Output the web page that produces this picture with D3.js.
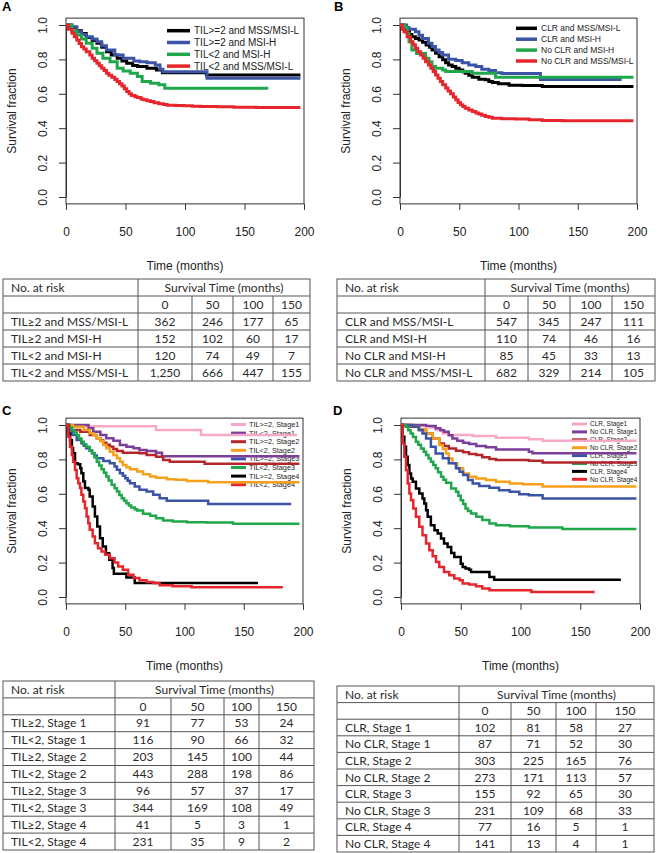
<!DOCTYPE html>
<html>
<head>
<meta charset="utf-8">
<script src="https://cdn.jsdelivr.net/npm/d3@7"></script>
<style>
  body { margin: 0; background: #fff; }
  svg { display: block; }
</style>
</head>
<body>
<div id="chart"></div>
<script>
/* axis ticks shared by all four survival plots */
var timeTicks = [0, 50, 100, 150, 200];
var survTicks = [0, 0.2, 0.4, 0.6, 0.8, 1.0];

/* Panel A: TIL and MSI status, [months, survival] step points */
var namesA = ["TIL>=2 and MSS/MSI-L", "TIL>=2 and MSI-H", "TIL<2 and MSI-H", "TIL<2 and MSS/MSI-L"];
var colorsA = ["#000000", "#3b54a5", "#20a74c", "#e6262c"];
var A_hiTil_mss = [[0,1],[4,0.985],[9,0.967],[13,0.95],[17,0.928],[22,0.91],[26,0.894],[30,0.87],[34,0.845],[38,0.825],[43,0.807],[47,0.79],[51,0.778],[56,0.765],[60,0.758],[68,0.749],[76,0.739],[81,0.723],[118,0.71],[197,0.71]];
var A_hiTil_msih = [[0,1],[5,0.99],[9,0.961],[13,0.945],[17,0.932],[22,0.918],[26,0.903],[30,0.88],[34,0.855],[41,0.826],[48,0.807],[57,0.791],[62,0.787],[68,0.78],[75,0.768],[79,0.743],[81.5,0.728],[118.5,0.69],[197,0.69]];
var A_loTil_msih = [[0,1],[5,0.965],[9,0.942],[13,0.918],[17,0.894],[22,0.865],[26,0.836],[31,0.807],[37,0.787],[43,0.749],[48,0.733],[54,0.72],[60,0.70],[64,0.671],[71,0.661],[78,0.652],[83,0.632],[170,0.632]];
var A_loTil_mss = [[0,1],[2,0.975],[5,0.952],[7,0.932],[9,0.913],[11,0.893],[13,0.874],[15,0.86],[17,0.845],[20,0.825],[22,0.807],[24,0.792],[26,0.778],[28,0.763],[30,0.749],[32,0.735],[34,0.72],[36,0.708],[38.5,0.696],[41,0.683],[43,0.671],[45,0.658],[47,0.646],[49,0.63],[51,0.613],[53,0.6],[55,0.59],[58,0.583],[60,0.578],[63,0.57],[65,0.565],[68,0.56],[71,0.555],[74,0.548],[78,0.542],[82,0.538],[85,0.534],[92,0.532],[99,0.53],[106,0.528],[113,0.526],[127,0.524],[141,0.522],[160,0.52],[197,0.52]];

/* Panel B: Crohn's-like reaction and MSI status */
var namesB = ["CLR and MSS/MSI-L", "CLR and MSI-H", "No CLR and MSI-H", "No CLR and MSS/MSI-L"];
var colorsB = ["#000000", "#3b54a5", "#20a74c", "#e6262c"];
var B_clr_mss = [[0,1],[3,0.975],[5,0.961],[8,0.945],[10,0.932],[13,0.922],[16,0.913],[19,0.9],[22,0.884],[25,0.87],[27,0.855],[30,0.836],[33,0.816],[36,0.798],[38.5,0.781],[41,0.768],[44,0.758],[47,0.748],[50,0.739],[53,0.728],[55,0.72],[58,0.708],[61,0.696],[66.5,0.685],[72,0.681],[75,0.672],[78,0.665],[83,0.658],[92,0.65],[103,0.648],[120,0.643],[197,0.643]];
var B_clr_msih = [[0,1],[5.6,0.985],[7.6,0.975],[13,0.961],[16,0.94],[19,0.922],[24,0.894],[27,0.875],[30,0.855],[33,0.84],[36,0.826],[41,0.801],[47,0.793],[52.5,0.781],[58,0.768],[64,0.758],[69,0.743],[75,0.735],[80.6,0.723],[86,0.718],[118.5,0.683],[187,0.683]];
var B_noclr_msih = [[0,1],[4,0.985],[6,0.952],[7.6,0.903],[10,0.855],[14,0.834],[21.6,0.807],[24.4,0.787],[27,0.758],[30,0.749],[36,0.739],[38.5,0.729],[61,0.72],[80.6,0.696],[197,0.696]];
var B_noclr_mss = [[0,1],[2,0.975],[3.4,0.961],[6,0.932],[9,0.903],[11,0.885],[13,0.865],[15,0.845],[17.4,0.826],[19.5,0.806],[21.6,0.787],[24,0.768],[26,0.749],[28,0.73],[30,0.71],[32,0.69],[34,0.671],[36,0.652],[38.5,0.633],[40.5,0.616],[42.7,0.6],[45,0.582],[47,0.565],[49,0.55],[51,0.536],[53,0.526],[55,0.516],[58,0.506],[61,0.497],[64,0.489],[66.5,0.482],[69,0.475],[72,0.468],[75,0.463],[78,0.458],[86,0.455],[97.5,0.453],[109,0.449],[120,0.445],[137,0.443],[197,0.443]];

/* Panel C: TIL by stage */
var namesC = ["TIL>=2, Stage1", "TIL<2, Stage1", "TIL>=2, Stage2", "TIL<2, Stage2", "TIL>=2, Stage3", "TIL<2, Stage3", "TIL>=2, Stage4", "TIL<2, Stage4"];
var colorsStage = ["#f5a9c6", "#7c3f99", "#b3262b", "#f6a01b", "#3b54a5", "#20a74c", "#000000", "#e6262c"];
var C_hi_s1 = [[0,1],[3,0.993],[76,0.971],[114,0.942],[195,0.942]];
var C_lo_s1 = [[0,1],[19,0.981],[23,0.961],[29,0.942],[34,0.923],[40,0.909],[45.5,0.884],[51,0.874],[57,0.865],[62,0.855],[68,0.849],[76,0.839],[81,0.818],[197,0.818]];
var C_hi_s2 = [[0,1],[3,0.971],[12,0.961],[20,0.942],[26,0.923],[29,0.91],[31.5,0.897],[34,0.885],[37,0.874],[40,0.86],[43,0.849],[48,0.839],[62,0.836],[68,0.826],[76,0.816],[82,0.797],[87.6,0.787],[117,0.775],[197,0.775]];
var C_lo_s2 = [[0,1],[6,0.99],[15,0.971],[20,0.952],[23,0.94],[26,0.923],[29,0.905],[31.5,0.884],[34,0.865],[37,0.845],[40,0.826],[43,0.807],[45.5,0.787],[48,0.768],[51,0.755],[54,0.743],[60,0.729],[65,0.714],[71,0.7],[76,0.694],[85,0.685],[93,0.681],[102,0.675],[120,0.667],[197,0.667]];
var C_hi_s3 = [[0,1],[2,0.97],[5,0.942],[9,0.913],[13,0.894],[15,0.88],[17,0.865],[20,0.85],[22,0.836],[24,0.822],[26,0.807],[31.5,0.791],[37,0.778],[41,0.758],[43,0.74],[45.5,0.72],[48,0.705],[50,0.691],[52,0.676],[54,0.661],[58,0.642],[62,0.623],[68,0.613],[73.6,0.594],[79,0.574],[85,0.559],[120,0.54],[190,0.54]];
var C_lo_s3 = [[0,1],[3,0.985],[5,0.971],[7,0.957],[9,0.942],[11,0.922],[13,0.903],[15,0.888],[17,0.874],[20,0.852],[22,0.836],[24,0.812],[26,0.787],[28,0.765],[30,0.743],[32,0.722],[34,0.7],[36,0.677],[38.5,0.652],[41,0.632],[43,0.613],[45,0.593],[47,0.574],[49,0.56],[51,0.545],[53,0.532],[55,0.52],[58,0.51],[60,0.503],[65,0.484],[71,0.472],[76,0.458],[82,0.445],[90,0.439],[102,0.435],[118.5,0.433],[141,0.426],[197,0.426]];
var C_hi_s4 = [[0,1],[2,0.95],[3.4,0.913],[5,0.865],[6,0.836],[7.6,0.778],[10,0.772],[12,0.749],[13,0.72],[14.6,0.671],[16,0.633],[19,0.623],[20,0.584],[22.5,0.526],[24.4,0.468],[26.4,0.41],[28.7,0.342],[31,0.294],[33.7,0.255],[36.5,0.217],[39.3,0.168],[40.4,0.135],[51,0.114],[58,0.081],[162,0.081]];
var C_lo_s4 = [[0,1],[2,0.932],[3.4,0.874],[5,0.826],[6,0.787],[7.6,0.739],[9,0.69],[10.4,0.661],[11.8,0.633],[13,0.594],[14.6,0.555],[16,0.516],[17.4,0.468],[18.8,0.429],[20,0.391],[22.5,0.352],[24.4,0.313],[27,0.284],[30,0.265],[33,0.246],[37,0.226],[41,0.201],[44,0.178],[48,0.159],[52.5,0.13],[57,0.11],[62,0.097],[68,0.087],[73.6,0.081],[79,0.068],[90,0.062],[106,0.056],[183,0.056]];

/* Panel D: CLR by stage */
var namesD = ["CLR, Stage1", "No CLR, Stage1", "CLR, Stage2", "No CLR, Stage2", "CLR, Stage3", "No CLR, Stage3", "CLR, Stage4", "No CLR, Stage4"];
var D_clr_s1 = [[0,1],[4,0.994],[24,0.986],[29,0.971],[35,0.951],[40,0.942],[60,0.936],[79.5,0.926],[107,0.917],[118.5,0.909],[197,0.909]];
var D_no_s1 = [[0,1],[21,0.994],[29,0.981],[33,0.97],[36,0.961],[40,0.94],[43,0.922],[47,0.909],[52,0.897],[57,0.889],[63,0.878],[71,0.87],[79.5,0.858],[107,0.845],[110,0.836],[197,0.836]];
var D_clr_s2 = [[0,1],[7,0.99],[15,0.971],[21,0.951],[26.5,0.922],[32,0.893],[36,0.878],[40,0.864],[46,0.85],[52,0.841],[57,0.831],[63,0.825],[68,0.812],[74,0.802],[79.5,0.796],[107,0.792],[118.5,0.782],[197,0.782]];
var D_no_s2 = [[0,1],[10,0.99],[15,0.975],[21,0.951],[26.5,0.922],[32,0.883],[35,0.86],[37.7,0.835],[40,0.805],[43,0.777],[47,0.748],[52,0.718],[57,0.699],[63,0.689],[71,0.68],[79.5,0.67],[91,0.66],[102,0.656],[118.5,0.643],[197,0.643]];
var D_clr_s3 = [[0,1],[10,0.99],[15,0.971],[18,0.95],[21,0.922],[25,0.874],[29,0.835],[35,0.806],[40,0.777],[46,0.748],[49,0.728],[52,0.709],[56,0.68],[60,0.66],[65.5,0.645],[74,0.635],[82,0.621],[91,0.612],[99,0.598],[107,0.592],[118.5,0.573],[197,0.573]];
var D_no_s3 = [[0,1],[4,0.99],[6,0.97],[8,0.951],[10,0.93],[12.5,0.903],[14.5,0.885],[16.7,0.864],[19,0.845],[21,0.825],[23,0.805],[25,0.786],[27,0.768],[29,0.748],[31,0.725],[33.5,0.699],[35.5,0.682],[37.7,0.664],[42,0.631],[46,0.612],[48,0.588],[50,0.563],[52,0.54],[54,0.515],[56,0.5],[58.6,0.485],[63,0.466],[68,0.447],[74,0.427],[79.5,0.417],[91,0.412],[107,0.404],[135,0.395],[197,0.395]];
var D_clr_s4 = [[0,1],[1.4,0.932],[2.8,0.874],[4.2,0.816],[5.6,0.767],[7,0.718],[8.4,0.689],[9.8,0.67],[12.5,0.631],[15.3,0.602],[18,0.573],[19.5,0.544],[21,0.505],[22.3,0.466],[25,0.417],[28,0.388],[30.7,0.369],[33.5,0.34],[36,0.311],[39,0.291],[42,0.256],[44.6,0.233],[50,0.194],[51.6,0.175],[54,0.165],[57,0.159],[58.6,0.146],[74,0.117],[78,0.1],[184,0.1]];
var D_no_s4 = [[0,1],[1.4,0.893],[2.8,0.816],[4.2,0.738],[5.6,0.66],[7,0.602],[8.4,0.563],[10.3,0.515],[12.5,0.466],[15.3,0.408],[18,0.359],[21,0.311],[23.7,0.272],[26.5,0.237],[29.3,0.204],[32,0.175],[36,0.146],[40.4,0.126],[44.6,0.107],[49,0.097],[51.6,0.078],[57,0.072],[62.8,0.062],[68,0.049],[74,0.039],[109,0.029],[162,0.029]];

/* Number-at-risk tables */
var riskTimes = ["0", "50", "100", "150"];
var riskRowsA = ["TIL\u22652 and MSS/MSI-L", "TIL\u22652 and MSI-H", "TIL<2 and MSI-H", "TIL<2 and MSS/MSI-L"];
var riskA = [[362, 246, 177, 65], [152, 102, 60, 17], [120, 74, 49, 7], [1250, 666, 447, 155]];
var riskRowsB = ["CLR and MSS/MSI-L", "CLR and MSI-H", "No CLR and MSI-H", "No CLR and MSS/MSI-L"];
var riskB = [[547, 345, 247, 111], [110, 74, 46, 16], [85, 45, 33, 13], [682, 329, 214, 105]];
var riskRowsC = ["TIL\u22652, Stage 1", "TIL<2, Stage 1", "TIL\u22652, Stage 2", "TIL<2, Stage 2", "TIL\u22652, Stage 3", "TIL<2, Stage 3", "TIL\u22652, Stage 4", "TIL<2, Stage 4"];
var riskC = [[91, 77, 53, 24], [116, 90, 66, 32], [203, 145, 100, 44], [443, 288, 198, 86], [96, 57, 37, 17], [344, 169, 108, 49], [41, 5, 3, 1], [231, 35, 9, 2]];
var riskRowsD = ["CLR, Stage 1", "No CLR, Stage 1", "CLR, Stage 2", "No CLR, Stage 2", "CLR, Stage 3", "No CLR, Stage 3", "CLR, Stage 4", "No CLR, Stage 4"];
var riskD = [[102, 81, 58, 27], [87, 71, 52, 30], [303, 225, 165, 76], [273, 171, 113, 57], [155, 92, 65, 30], [231, 109, 68, 33], [77, 16, 5, 1], [141, 13, 4, 1]];

var W = 659, H = 853;
var plotFont = "'Liberation Sans', Arial, sans-serif";
var tableFont = "Lato, 'Open Sans', sans-serif";

var svg = d3.select("#chart").append("svg")
    .attr("width", W)
    .attr("height", H)
    .attr("viewBox", "0 0 " + W + " " + H);

svg.append("rect").attr("width", W).attr("height", H).attr("fill", "#fff");

/* Draws one Kaplan-Meier panel */
function drawPanel(p) {
    var x = d3.scaleLinear().domain([0, 200]).range([p.left, p.right]);
    var y = d3.scaleLinear().domain([0, 1]).range([p.y0, p.y1]);
    var top = y(1.04), bottom = y(-0.04);
    var g = svg.append("g").attr("font-family", plotFont);

    // panel letter
    svg.append("text")
        .attr("x", p.letterX).attr("y", p.letterY)
        .attr("font-family", plotFont)
        .attr("font-weight", "bold")
        .attr("font-size", 13)
        .text(p.letter);

    // x axis
    var xa = g.append("g")
        .attr("transform", "translate(0," + bottom + ")")
        .call(d3.axisBottom(x).tickValues(timeTicks).tickSize(6).tickSizeOuter(0));
    xa.select(".domain").remove();
    xa.selectAll("line").attr("stroke", "#333");
    xa.selectAll("text")
        .attr("y", 28).attr("dy", "0.35em")
        .attr("font-size", 12).attr("fill", "#222")
        .attr("font-family", plotFont);

    // y axis
    var ya = g.append("g")
        .attr("transform", "translate(" + p.left + ",0)")
        .call(d3.axisLeft(y).tickValues(survTicks).tickFormat(d3.format(".1f")).tickSize(7).tickSizeOuter(0));
    ya.select(".domain").attr("stroke", "#333");
    ya.selectAll("line").attr("stroke", "#333");
    ya.selectAll("text")
        .attr("x", null).attr("dy", "0.35em")
        .attr("text-anchor", "middle")
        .attr("transform", "translate(-23,0) rotate(-90)")
        .attr("font-size", 12).attr("fill", "#222")
        .attr("font-family", plotFont);

    // box
    g.append("rect")
        .attr("x", p.left).attr("y", top)
        .attr("width", p.right - p.left).attr("height", bottom - top)
        .attr("fill", "none").attr("stroke", "#333").attr("stroke-width", 1);

    // axis titles
    g.append("text")
        .attr("transform", "translate(" + (p.left - 54) + "," + ((top + bottom) / 2) + ") rotate(-90)")
        .attr("dy", "0.35em").attr("text-anchor", "middle")
        .attr("font-size", 12).attr("fill", "#222")
        .text("Survival fraction");
    g.append("text")
        .attr("x", (p.left + p.right) / 2).attr("y", bottom + 62)
        .attr("dy", "0.35em").attr("text-anchor", "middle")
        .attr("font-size", 12).attr("fill", "#222")
        .text("Time (months)");

    // legend (drawn under the curves, no background)
    var lg = g.append("g");
    p.names.forEach(function(name, i) {
        var ly = p.legY + i * p.legDy;
        lg.append("line")
            .attr("x1", p.legX1).attr("x2", p.legX2)
            .attr("y1", ly).attr("y2", ly)
            .attr("stroke", p.colors[i]).attr("stroke-width", p.lw + 0.5);
        lg.append("text")
            .attr("x", p.legTx).attr("y", ly)
            .attr("dy", "0.35em")
            .attr("font-size", p.legFs).attr("fill", "#222")
            .text(name);
    });

    // curves
    var line = d3.line()
        .x(function(d) { return x(d[0]); })
        .y(function(d) { return y(d[1]); })
        .curve(d3.curveStepAfter);
    g.append("g").selectAll("path")
        .data(p.series)
        .enter().append("path")
        .attr("d", line)
        .attr("fill", "none")
        .attr("stroke", function(d, i) { return p.colors[i]; })
        .attr("stroke-width", p.lw)
        .attr("stroke-linejoin", "miter");
}

/* Draws one number-at-risk table */
function drawTable(t, rows, values) {
    var g = svg.append("g").attr("font-family", tableFont).attr("font-size", t.fs).attr("fill", "#2a2a2a");
    var nRows = rows.length + 2;
    var bottom = t.top + nRows * t.rowH;
    var edges = [t.cols[0]].concat(t.cols.slice(1));
    var stroke = "#555";

    g.append("rect")
        .attr("x", t.left).attr("y", t.top)
        .attr("width", t.right - t.left).attr("height", bottom - t.top)
        .attr("fill", "none").attr("stroke", stroke).attr("stroke-width", 1);

    // horizontal rules
    d3.range(1, nRows).forEach(function(r) {
        g.append("line")
            .attr("x1", t.left).attr("x2", t.right)
            .attr("y1", t.top + r * t.rowH).attr("y2", t.top + r * t.rowH)
            .attr("stroke", stroke).attr("stroke-width", 1);
    });
    // label column divider, full height
    g.append("line")
        .attr("x1", t.cols[0]).attr("x2", t.cols[0])
        .attr("y1", t.top).attr("y2", bottom)
        .attr("stroke", stroke).attr("stroke-width", 1);
    // time column dividers, below header
    t.cols.slice(1).forEach(function(cx) {
        g.append("line")
            .attr("x1", cx).attr("x2", cx)
            .attr("y1", t.top + t.rowH).attr("y2", bottom)
            .attr("stroke", stroke).attr("stroke-width", 1);
    });

    var bounds = t.cols.concat([t.right]);
    var cy = function(r) { return t.top + (r + 0.5) * t.rowH; };

    g.append("text").attr("x", t.left + 8).attr("y", cy(0)).attr("dy", "0.35em").text("No. at risk");
    g.append("text").attr("x", (t.cols[0] + t.right) / 2).attr("y", cy(0)).attr("dy", "0.35em")
        .attr("text-anchor", "middle").text("Survival Time (months)");

    riskTimes.forEach(function(lbl, c) {
        g.append("text").attr("x", (bounds[c] + bounds[c + 1]) / 2).attr("y", cy(1)).attr("dy", "0.35em")
            .attr("text-anchor", "middle").text(lbl);
    });

    var fmt = d3.format(",");
    rows.forEach(function(name, r) {
        g.append("text").attr("x", t.left + 8).attr("y", cy(r + 2)).attr("dy", "0.35em").text(name);
        values[r].forEach(function(v, c) {
            g.append("text").attr("x", (bounds[c] + bounds[c + 1]) / 2).attr("y", cy(r + 2)).attr("dy", "0.35em")
                .attr("text-anchor", "middle").text(fmt(v));
        });
    });
}

drawPanel({
    letter: "A", letterX: 2, letterY: 11,
    left: 66, right: 304, y0: 197, y1: 25,
    names: namesA, colors: colorsA,
    series: [A_hiTil_mss, A_hiTil_msih, A_loTil_msih, A_loTil_mss],
    lw: 3, legX1: 167, legX2: 190, legTx: 194, legY: 30.7, legDy: 11.8, legFs: 10
});
drawPanel({
    letter: "B", letterX: 334, letterY: 11,
    left: 400, right: 637, y0: 197, y1: 25,
    names: namesB, colors: colorsB,
    series: [B_clr_mss, B_clr_msih, B_noclr_msih, B_noclr_mss],
    lw: 3, legX1: 516, legX2: 537, legTx: 541, legY: 28.3, legDy: 10.9, legFs: 8.5
});
drawPanel({
    letter: "C", letterX: 2, letterY: 415,
    left: 66, right: 303, y0: 597, y1: 425,
    names: namesC, colors: colorsStage,
    series: [C_hi_s1, C_lo_s1, C_hi_s2, C_lo_s2, C_hi_s3, C_lo_s3, C_hi_s4, C_lo_s4],
    lw: 2.5, legX1: 231, legX2: 246, legTx: 249, legY: 424.5, legDy: 8.6, legFs: 7.3
});
drawPanel({
    letter: "D", letterX: 333, letterY: 415,
    left: 401, right: 640, y0: 597, y1: 425,
    names: namesD, colors: colorsStage,
    series: [D_clr_s1, D_no_s1, D_clr_s2, D_no_s2, D_clr_s3, D_no_s3, D_clr_s4, D_no_s4],
    lw: 2.5, legX1: 572, legX2: 587, legTx: 590, legY: 424, legDy: 7.9, legFs: 6.5
});

drawTable({ left: 3, right: 310, cols: [138, 192, 233, 273], top: 279, rowH: 17, fs: 12 }, riskRowsA, riskA);
drawTable({ left: 337, right: 655, cols: [485, 528, 570, 612], top: 279, rowH: 17, fs: 12 }, riskRowsB, riskB);
drawTable({ left: 3, right: 314, cols: [115, 171, 224, 259], top: 681, rowH: 16.9, fs: 12 }, riskRowsC, riskC);
drawTable({ left: 337, right: 654, cols: [459, 511, 556, 596], top: 686, rowH: 16.6, fs: 12 }, riskRowsD, riskD);
</script>
</body>
</html>
